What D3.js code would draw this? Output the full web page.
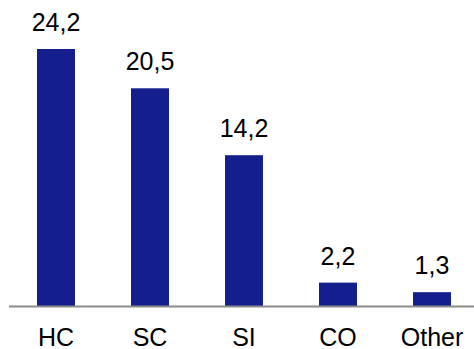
<!DOCTYPE html>
<html>
<head>
  <meta charset="UTF-8">
  <script src="https://d3js.org/d3.v7.min.js"></script>
  <style>
    * { margin: 0; padding: 0; }
    body { background: #fff; font-family: "Liberation Sans", Arial, sans-serif; }
  </style>
</head>
<body>
  <div id="chart"></div>
  <script>
    const categories = ["HC", "SC", "SI", "CO", "Other"];
    const values = [24.2, 20.5, 14.2, 2.2, 1.3];
    const valueLabels = ["24,2", "20,5", "14,2", "2,2", "1,3"];

    const W = 474, H = 349, baseY = 306;

    const svg = d3.select("#chart").append("svg")
      .attr("width", W).attr("height", H);

    const data = categories.map((c, i) => ({ cat: c, val: values[i], label: valueLabels[i] }));

    const x = d3.scaleBand()
      .domain(categories)
      .range([9, 479])
      .paddingInner(0.596)
      .paddingOuter(0.298);

    const y = d3.scaleLinear()
      .domain([0, 24.2])
      .range([baseY, 49]);

    svg.selectAll(".bar")
      .data(data)
      .enter().append("rect")
      .attr("class", "bar")
      .attr("x", d => x(d.cat))
      .attr("y", d => y(d.val))
      .attr("width", x.bandwidth())
      .attr("height", d => baseY - y(d.val))
      .attr("fill", "#141e8c");

    // baseline
    svg.append("line")
      .attr("x1", 9).attr("x2", W)
      .attr("y1", baseY + 0.5).attr("y2", baseY + 0.5)
      .attr("stroke", "#8c8c8c")
      .attr("stroke-width", 2);

    svg.selectAll(".val")
      .data(data)
      .enter().append("text")
      .attr("x", d => x(d.cat) + x.bandwidth() / 2)
      .attr("y", d => y(d.val) - 18)
      .attr("text-anchor", "middle")
      .style("font-size", "25px")
      .attr("fill", "#000")
      .text(d => d.label);

    svg.selectAll(".cat")
      .data(data)
      .enter().append("text")
      .attr("x", d => x(d.cat) + x.bandwidth() / 2)
      .attr("y", 345.5)
      .attr("text-anchor", "middle")
      .style("font-size", "25px")
      .attr("fill", "#000")
      .text(d => d.cat);
  </script>
</body>
</html>
